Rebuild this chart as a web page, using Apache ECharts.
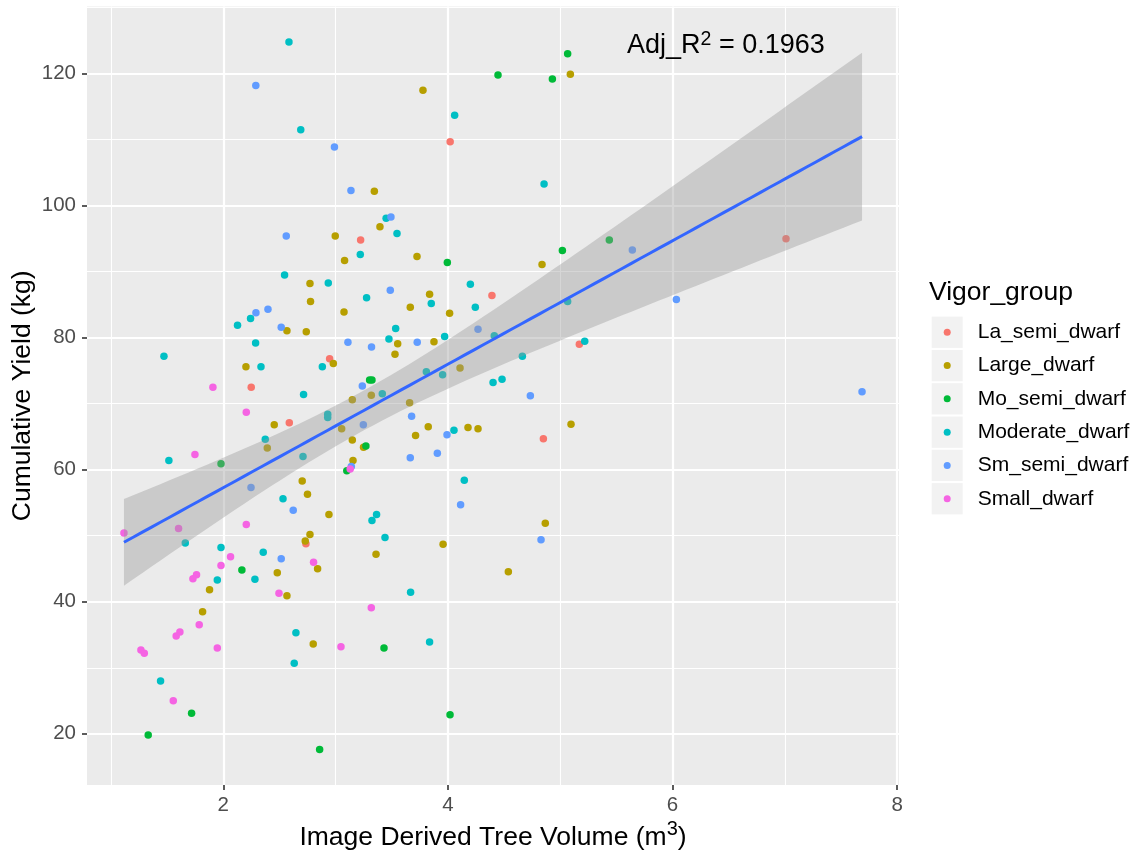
<!DOCTYPE html>
<html>
<head>
<meta charset="utf-8">
<script src="https://cdn.jsdelivr.net/npm/echarts@6/dist/echarts.min.js"></script>
<style>html,body{margin:0;padding:0;background:#fff;}#chart{width:1144px;height:856px;}</style>
</head>
<body>
<div id="chart"></div>
<script>
// ---- data (x = image derived tree volume m^3, y = cumulative yield kg) ----
const groupNames = ['La_semi_dwarf','Large_dwarf','Mo_semi_dwarf','Moderate_dwarf','Sm_semi_dwarf','Small_dwarf'];
const groupColors = ['#F8766D','#B79F00','#00BA38','#00BFC4','#619CFF','#F564E3'];

const laSemiDwarf = [[3.223,94.8],[4.02,109.7],[7.01,95.0],[2.947,76.8],[2.249,72.5],[2.588,67.1],[4.392,86.4],[5.17,79.0],[4.85,64.7],[2.736,48.8]];

const largeDwarf = [[2.997,95.4],[3.08,91.7],[5.09,119.9],[3.778,117.5],[3.345,102.2],[3.395,96.8],[3.725,92.3],[4.838,91.1],[2.772,88.2],[2.777,85.5],
  [3.075,83.9],[2.567,81.06],[2.739,80.9],[2.98,76.1],[2.202,75.6],[3.149,70.6],[2.454,66.8],[3.054,66.2],[2.392,63.3],[3.149,64.5],
  [3.249,63.4],[3.155,61.4],[2.703,58.3],[2.75,56.3],[2.941,53.2],[3.837,86.6],[3.665,84.6],[4.015,83.7],[3.553,79.1],[3.876,79.4],
  [3.529,77.5],[4.108,75.4],[3.318,71.3],[3.659,70.15],[3.825,66.5],[3.712,65.2],[4.179,66.4],[4.268,66.2],[5.096,66.9],[4.867,51.9],
  [2.772,50.2],[2.73,49.2],[2.481,44.4],[2.84,45.0],[1.878,41.8],[2.567,40.9],[1.816,38.5],[2.801,33.6],[3.957,48.7],[3.36,47.2],[4.538,44.55]];

const moSemiDwarf = [[5.066,123.0],[4.446,119.8],[4.93,119.2],[3.995,91.4],[5.019,93.2],[5.437,94.8],[3.303,73.6],[3.324,73.6],[3.27,63.6],
  [3.10,59.85],[1.98,60.9],[2.166,44.8],[1.718,23.1],[1.332,19.8],[2.858,17.6],[3.431,33.0],[4.019,22.9]];

const moderateDwarf = [[2.585,124.8],[2.69,111.5],[3.22,92.6],[4.06,113.7],[4.856,103.3],[3.45,98.1],[3.547,95.8],[2.546,89.5],[2.935,88.3],[3.276,86.06],
  [2.243,82.9],[2.127,81.9],[2.288,79.2],[1.472,77.2],[2.336,75.6],[2.882,75.6],[2.715,71.4],[2.93,68.4],[2.93,67.9],[2.374,64.6],
  [2.71,62.0],[1.516,61.4],[2.532,55.6],[4.2,88.1],[3.852,85.2],[4.244,84.6],[3.535,81.4],[3.475,79.8],[3.971,80.2],[4.413,80.3],
  [5.066,85.5],[5.218,79.45],[4.663,77.2],[3.808,74.85],[3.953,74.4],[4.402,73.2],[4.482,73.7],[3.416,71.5],[4.054,66.0],[4.146,58.4],
  [3.365,53.2],[3.324,52.3],[1.662,48.9],[1.98,48.2],[2.356,47.5],[2.282,43.4],[1.947,43.3],[2.647,35.3],[2.632,30.7],[1.442,28.0],
  [3.44,49.75],[3.668,41.45],[3.837,33.9]];

const smSemiDwarf = [[2.29,118.2],[2.99,108.9],[3.137,102.3],[2.561,95.4],[3.493,98.3],[5.642,93.3],[2.291,83.8],[2.398,84.3],[2.516,81.6],[3.11,79.3],
  [3.238,72.7],[3.247,66.8],[3.14,60.5],[2.247,57.3],[2.623,53.85],[3.487,87.2],[4.268,81.3],[3.32,78.6],[3.727,79.3],[4.734,71.2],
  [3.677,68.1],[3.992,65.3],[3.665,61.8],[3.906,62.5],[4.113,54.7],[6.034,85.8],[7.687,71.8],[2.516,46.5],[4.829,49.4]];

const smallDwarf = [[1.908,72.5],[2.205,68.7],[1.748,62.3],[3.13,60.1],[2.205,51.7],[1.602,51.1],[1.116,50.4],[2.065,46.8],[1.98,45.5],[2.804,46.0],
  [1.762,44.1],[1.73,43.5],[2.496,41.3],[1.786,36.5],[1.614,35.4],[1.581,34.8],[3.048,33.2],[1.947,33.0],[1.267,32.7],[1.297,32.2],
  [1.555,25.0],[3.318,39.1]];

const groupData = [laSemiDwarf, largeDwarf, moSemiDwarf, moderateDwarf, smSemiDwarf, smallDwarf];

const xMajorTicks = [2,4,6,8];
const xMinorTicks = [1,3,5,7];
const yMajorTicks = [20,40,60,80,100,120];
const yMinorTicks = [30,50,70,90,110,130];
const annotationText = 'Adj_R';
const annotationValue = ' = 0.1963';

// ---- linear model fit with 95% confidence band ----
const all = groupData.flat();
const n = all.length;
const xbar = all.reduce((s,p)=>s+p[0],0)/n;
const ybar = all.reduce((s,p)=>s+p[1],0)/n;
let sxx=0, sxy=0;
all.forEach(p=>{ sxx += (p[0]-xbar)**2; sxy += (p[0]-xbar)*(p[1]-ybar); });
const slope = sxy/sxx, icpt = ybar - slope*xbar;
let sse=0; all.forEach(p=>{ sse += (p[1]-icpt-slope*p[0])**2; });
const sres = Math.sqrt(sse/(n-2));
const tcrit = 1.973;
const xs = all.map(p=>p[0]);
const xLo = Math.min(...xs), xHi = Math.max(...xs);
const fitLine = [], bandUpper = [], bandLower = [];
for (let i=0;i<=80;i++){
  const x = xLo + (xHi-xLo)*i/80;
  const yh = icpt + slope*x;
  const se = sres*Math.sqrt(1/n + (x-xbar)**2/sxx);
  fitLine.push([x,yh]); bandUpper.push([x,yh+tcrit*se]); bandLower.push([x,yh-tcrit*se]);
}

const FF = "'Liberation Sans', Arial, sans-serif";
const chart = echarts.init(document.getElementById('chart'));

const series = groupNames.map((nm,i)=>({
  type:'scatter', name:nm, data:groupData[i], symbolSize:7.5, z:2,
  itemStyle:{color:groupColors[i], opacity:1}
}));
series.push({
  type:'custom', name:'band', coordinateSystem:'cartesian2d', z:3, silent:true,
  data:[fitLine[0]],
  renderItem:function(params, api){
    const pts = bandUpper.map(p=>api.coord(p)).concat(bandLower.slice().reverse().map(p=>api.coord(p)));
    return {type:'polygon', shape:{points:pts}, style:{fill:'rgba(153,153,153,0.4)'}};
  }
});
series.push({
  type:'line', name:'fit', data:fitLine, showSymbol:false, z:4, silent:true,
  lineStyle:{color:'#3366FF', width:3}
});

const xMin = 0.787, xMax = 8.016, yMin = 12.24, yMax = 130.16;

const option = {
  animation:false,
  backgroundColor:'#ffffff',
  grid:{left:87, right:245, top:6.6, bottom:71, show:true, backgroundColor:'#EBEBEB', borderWidth:0,
        containLabel:false, outerBoundsMode:'none'},
  xAxis:[
    {type:'value', min:xMin, max:xMax,
     axisLine:{show:false},
     axisTick:{show:true, length:5, customValues:xMajorTicks, lineStyle:{color:'#333333', width:1.6}},
     axisLabel:{customValues:xMajorTicks, fontSize:20.5, color:'#4D4D4D', margin:10, fontFamily:FF},
     splitLine:{show:true, lineStyle:{color:'#ffffff', width:2.2}},
     name:'{a|Image Derived Tree Volume (m}{s|3}{a|)}', nameLocation:'middle', nameGap:34, nameMoveOverlap:false,
     nameTextStyle:{rich:{a:{fontSize:26.5, lineHeight:38, color:'#000', fontFamily:FF}, s:{fontSize:20, lineHeight:17, verticalAlign:'top', color:'#000', fontFamily:FF}}}
    },
    {type:'value', min:xMin, max:xMax, position:'bottom',
     axisLine:{show:false}, axisTick:{show:false, customValues:xMinorTicks}, axisLabel:{show:false},
     splitLine:{show:true, lineStyle:{color:'#ffffff', width:1.1}}
    }
  ],
  yAxis:[
    {type:'value', min:yMin, max:yMax,
     axisLine:{show:false},
     axisTick:{show:true, length:5, customValues:yMajorTicks, lineStyle:{color:'#333333', width:1.6}},
     axisLabel:{customValues:yMajorTicks, fontSize:20.5, color:'#4D4D4D', margin:11, fontFamily:FF},
     splitLine:{show:true, lineStyle:{color:'#ffffff', width:2.2}},
     name:'Cumulative Yield (kg)', nameLocation:'middle', nameGap:49, nameMoveOverlap:false,
     nameTextStyle:{fontSize:26.5, lineHeight:30, color:'#000', fontFamily:FF}
    },
    {type:'value', min:yMin, max:yMax, position:'left',
     axisLine:{show:false}, axisTick:{show:false, customValues:yMinorTicks}, axisLabel:{show:false},
     splitLine:{show:true, lineStyle:{color:'#ffffff', width:1.1}}
    }
  ],
  legend:{
    orient:'vertical', left:943.7, top:315.6, padding:0, itemGap:0, itemWidth:51, itemHeight:7, icon:'circle',
    selectedMode:false, data:groupNames,
    textStyle:{fontSize:21, lineHeight:33.3, color:'#000', fontFamily:FF}
  },
  graphic:[
    ...groupNames.map((nm,i)=>({type:'rect', z:-1, silent:true,
      shape:{x:931.7, y:316.6 + i*33.3, width:31, height:31.3}, style:{fill:'#F2F2F2'}})),
    {type:'text', left:929, top:278, silent:true,
     style:{text:'Vigor_group', fontSize:26.5, lineHeight:30, fill:'#000', fontFamily:FF}},
    {type:'text', left:627, top:30, silent:true, z:10,
     style:{text:'{a|'+annotationText+'}{s|2}{a|'+annotationValue+'}', fill:'#000',
       rich:{a:{fontSize:27, lineHeight:32, fontFamily:FF, fill:'#000'}, s:{fontSize:19.5, lineHeight:17, verticalAlign:'top', fontFamily:FF, fill:'#000'}}}}
  ],
  series:series
};
chart.setOption(option);
</script>
</body>
</html>
